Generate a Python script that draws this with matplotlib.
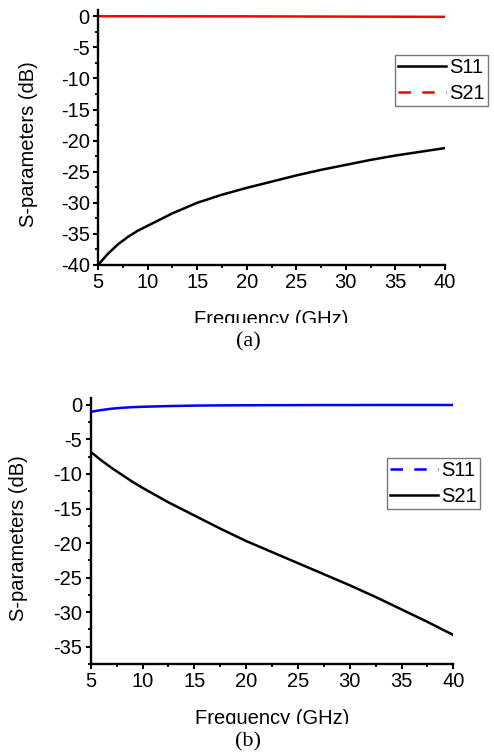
import matplotlib
matplotlib.use("Agg")
import matplotlib.pyplot as plt
from matplotlib.lines import Line2D
from matplotlib.ticker import MultipleLocator
from matplotlib.patches import Rectangle

# ---- data (a) ----
freq_a = [5, 6, 7, 8, 9, 10, 12.5, 15, 17.5, 20, 22.5, 25, 27.5, 30, 32.5, 35, 37.5, 40]
s11_a = [-40.0, -38.2, -36.7, -35.5, -34.5, -33.7, -31.7, -30.0, -28.7, -27.6,
         -26.6, -25.6, -24.7, -23.9, -23.1, -22.4, -21.8, -21.2]
s21_a = [0.0, 0.0, 0.0, 0.0, 0.0, 0.0, -0.01, -0.01, -0.02, -0.02,
         -0.03, -0.04, -0.05, -0.06, -0.07, -0.08, -0.09, -0.1]

# ---- data (b) ----
freq_b = [5, 6, 7, 8, 9, 10, 12.5, 15, 17.5, 20, 22.5, 25, 27.5, 30, 32.5, 35, 37.5, 40]
s11_b = [-1.0, -0.75, -0.55, -0.42, -0.33, -0.27, -0.17, -0.1, -0.07, -0.05,
         -0.04, -0.03, -0.02, -0.02, -0.01, -0.01, -0.01, -0.01]
s21_b = [-6.8, -8.0, -9.1, -10.1, -11.1, -12.0, -14.1, -16.0, -17.9, -19.7,
         -21.3, -22.9, -24.5, -26.1, -27.8, -29.6, -31.4, -33.3]

xticks = [5, 10, 15, 20, 25, 30, 35, 40]
yticks_a = [0, -5, -10, -15, -20, -25, -30, -35, -40]
yticks_b = [0, -5, -10, -15, -20, -25, -30, -35]

plt.rcParams['font.family'] = ['Liberation Sans', 'DejaVu Sans']
plt.rcParams['axes.unicode_minus'] = False
FS = 14.5

W, H = 494, 756
fig = plt.figure(figsize=(W / 100, H / 100), dpi=100)


def px_axes(l, r, t, b):
    return fig.add_axes([l / W, 1 - b / H, (r - l) / W, (b - t) / H])


def style(ax, yticks, ylim):
    ax.set_xlim(5, 40)
    ax.set_ylim(*ylim)
    ax.set_xticks(xticks)
    ax.set_yticks(yticks)
    ax.xaxis.set_minor_locator(MultipleLocator(2.5))
    ax.yaxis.set_minor_locator(MultipleLocator(2.5))
    for s in ['top', 'right']:
        ax.spines[s].set_visible(False)
    for s in ['left', 'bottom']:
        ax.spines[s].set_linewidth(1.7)
    ax.tick_params(which='major', direction='out', length=3.5, width=1.5,
                   labelsize=FS, pad=2.5)
    ax.tick_params(which='minor', direction='out', length=2, width=1.3)
    ax.set_ylabel('S-parameters (dB)', fontsize=FS)
    ax.yaxis.set_label_coords(-0.173, 0.475)
    ax.set_xlabel('Frequency (GHz)', fontsize=FS, labelpad=13)


LW = 1.8
leg_kw = dict(loc='upper right', fontsize=FS, frameon=True, fancybox=False,
              edgecolor='#555555', handlelength=2.4, handletextpad=0.15,
              borderpad=0.15, labelspacing=0.35, borderaxespad=0, handleheight=0.6)

# ---- panel (a) ----
ax1 = px_axes(98, 445, 10, 265)
ax1.plot(freq_a, s21_a, color='red', lw=LW)
ax1.plot(freq_a, s11_a, color='black', lw=LW)
style(ax1, yticks_a, (-40, 1))
h1 = [Line2D([], [], color='black', lw=LW),
      Line2D([], [], color='red', lw=LW, dashes=(5, 4.5))]
leg1 = ax1.legend(h1, ['S11', 'S21'], bbox_to_anchor=(488 / W, 1 - 55 / H),
                  bbox_transform=fig.transFigure, **leg_kw)
leg1.get_frame().set_linewidth(1.0)

# ---- panel (b) ----
ax2 = px_axes(90.7, 453.3, 398, 664)
ax2.plot(freq_b, s11_b, color='blue', lw=LW)
ax2.plot(freq_b, s21_b, color='black', lw=LW)
style(ax2, yticks_b, (-37.5, 1))
h2 = [Line2D([], [], color='blue', lw=LW, dashes=(5, 4.5)),
      Line2D([], [], color='black', lw=LW)]
leg2 = ax2.legend(h2, ['S11', 'S21'], bbox_to_anchor=(480 / W, 1 - 458 / H),
                  bbox_transform=fig.transFigure, **leg_kw)
leg2.get_frame().set_linewidth(1.0)

# clipped-looking bottoms of x labels
for y0, y1 in [(323, 331), (724, 731)]:
    fig.patches.append(Rectangle((150 / W, 1 - y1 / H), 250 / W, (y1 - y0) / H,
                                 transform=fig.transFigure, facecolor='white',
                                 edgecolor='none', zorder=10))

fig.text(248 / W, 1 - 341.7 / H, '(a)', family=['Liberation Serif'], fontsize=16,
         ha='center', va='center')
fig.text(248 / W, 1 - 741.7 / H, '(b)', family=['Liberation Serif'], fontsize=16,
         ha='center', va='center')

fig.savefig('out.png', dpi=100)
